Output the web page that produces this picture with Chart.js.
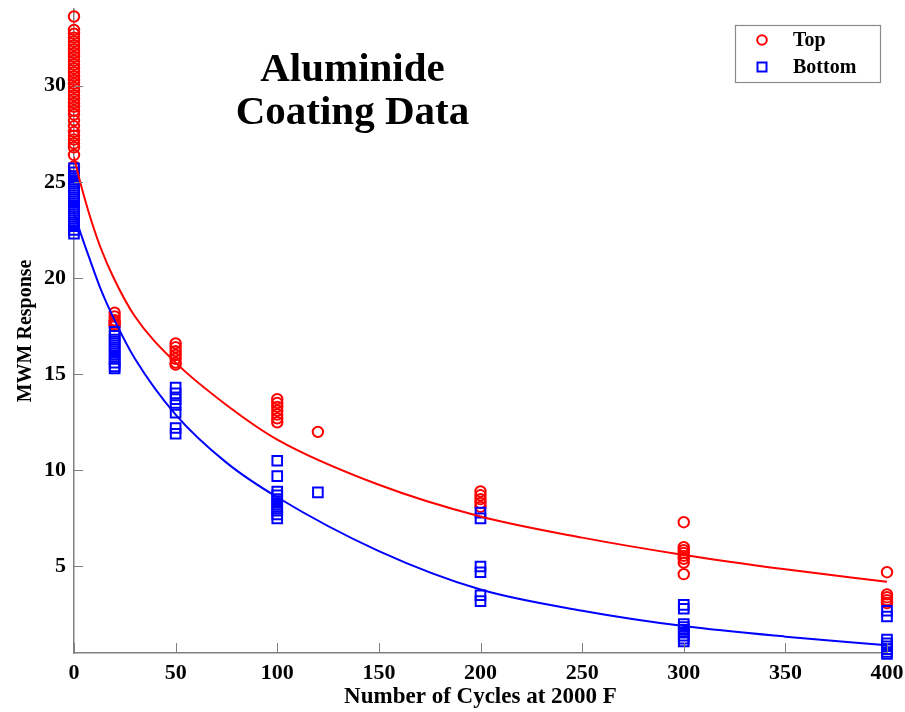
<!DOCTYPE html>
<html><head><meta charset="utf-8">
<script src="https://cdn.jsdelivr.net/npm/chart.js@4/dist/chart.umd.min.js"></script>
<style>html,body{margin:0;padding:0;background:#fff}#wrap{width:905px;height:712px}</style>
</head><body><div id="wrap"><canvas id="c" width="905" height="712"></canvas></div>
<script>
// ---- data ----
const cycles = [0, 20, 50, 100, 120, 200, 300, 400];
const topValues = [
  [33.6, 32.9, 32.7, 32.5, 32.3, 32.1, 31.9, 31.7, 31.5, 31.3, 31.1, 30.9, 30.7, 30.5, 30.3, 30.1, 29.9, 29.7, 29.5, 29.3, 29.1, 28.9, 28.7, 28.5, 28.2, 27.9, 27.6, 27.4, 27.2, 27.0, 26.8, 26.4, 25.8],
  [18.2, 18.0, 17.8, 17.7, 17.6, 17.5],
  [16.6, 16.4, 16.2, 16.0, 15.8, 15.6, 15.5],
  [13.7, 13.5, 13.3, 13.1, 12.9, 12.7, 12.5],
  [12.0],
  [8.9, 8.7, 8.5, 8.3, 8.1],
  [7.3, 6.0, 5.85, 5.7, 5.55, 5.4, 5.2, 4.6],
  [4.7, 3.55, 3.4, 3.25, 3.1]
];
const bottomValues = [
  [25.7, 25.5, 25.3, 25.1, 24.9, 24.7, 24.5, 24.3, 24.1, 23.9, 23.7, 23.5, 23.3, 23.1, 22.9, 22.7, 22.5, 22.3],
  [17.2, 17.0, 16.8, 16.6, 16.4, 16.2, 16.0, 15.8, 15.6, 15.4, 15.3],
  [14.3, 14.0, 13.7, 13.4, 13.0, 12.2, 11.9],
  [10.5, 9.7, 8.9, 8.7, 8.5, 8.3, 8.1, 7.9, 7.7, 7.5],
  [8.85],
  [7.8, 7.5, 5.0, 4.7, 3.5, 3.2],
  [3.0, 2.8, 2.0, 1.85, 1.7, 1.55, 1.4, 1.25, 1.1],
  [2.7, 2.4, 1.2, 1.0, 0.85, 0.7, 0.55, 0.45]
];
const topFitX = [0, 3, 7, 13, 20, 30, 50, 75, 100, 150, 200, 250, 300, 350, 400];
const topFitY = [26.3, 25.0, 23.5, 21.6, 19.9, 18.0, 15.6, 13.4, 11.6, 9.25, 7.6, 6.5, 5.6, 4.85, 4.2];
const bottomFitX = [0, 4, 7, 13.6, 20, 30, 50, 75, 100, 150, 200, 250, 300, 350, 400];
const bottomFitY = [23.4, 22.1, 21.2, 19.3, 17.8, 15.8, 12.9, 10.4, 8.6, 5.8, 3.8, 2.7, 1.9, 1.35, 0.9];
const xTicks = [0, 50, 100, 150, 200, 250, 300, 350, 400];
const yTicks = [5, 10, 15, 20, 25, 30];
const seriesNames = ['Top', 'Bottom'];
const titleLines = ['Aluminide', 'Coating Data'];
const xTitle = 'Number of Cycles at 2000 F';
const yTitle = 'MWM Response';

const RED = '#ff0000', BLUE = '#0000ff';
const FONT = '"Liberation Serif", "Times New Roman", serif';

function toPoints(xs, groups) {
  const pts = [];
  xs.forEach((x, i) => groups[i].forEach(v => pts.push({x: x, y: v})));
  return pts;
}
function zip(xs, ys) { return xs.map((x, i) => ({x: x, y: ys[i]})); }

const innerTicks = {
  id: 'innerTicks',
  afterDraw(chart) {
    const c = chart.ctx, xs = chart.scales.x, ys = chart.scales.y, a = chart.chartArea;
    c.save();
    c.strokeStyle = '#808080';
    c.lineWidth = 1;
    c.beginPath();
    xTicks.forEach(v => { const p = Math.round(xs.getPixelForValue(v)) + 0.5; c.moveTo(p, a.bottom); c.lineTo(p, a.bottom - 10); });
    yTicks.forEach(v => { const p = Math.round(ys.getPixelForValue(v)) + 0.5; c.moveTo(a.left, p); c.lineTo(a.left + 9, p); });
    c.stroke();
    c.restore();
  }
};

const titleAndLegend = {
  id: 'titleAndLegend',
  afterDraw(chart) {
    const c = chart.ctx, xs = chart.scales.x;
    c.save();
    c.fillStyle = '#000';
    c.font = 'bold 41px ' + FONT;
    c.textAlign = 'center';
    c.textBaseline = 'alphabetic';
    const cx = xs.getPixelForValue(137);
    c.fillText(titleLines[0], cx, 81);
    c.fillText(titleLines[1], cx, 124);
    // legend box
    c.fillStyle = '#fff';
    c.fillRect(735, 25, 145, 57);
    c.strokeStyle = '#8a8a8a';
    c.lineWidth = 1.2;
    c.strokeRect(735.5, 25.5, 145, 57);
    c.lineWidth = 2;
    c.strokeStyle = RED;
    c.beginPath(); c.arc(762, 40, 4.8, 0, Math.PI * 2); c.stroke();
    c.strokeStyle = BLUE;
    c.strokeRect(757.5, 62.5, 9, 9);
    c.fillStyle = '#000';
    c.font = 'bold 20px ' + FONT;
    c.textAlign = 'left';
    c.textBaseline = 'middle';
    c.fillText(seriesNames[0], 793, 41);
    c.fillText(seriesNames[1], 793, 68);
    c.restore();
  }
};

new Chart(document.getElementById('c'), {
  type: 'scatter',
  data: {
    datasets: [
      { label: 'Top fit', type: 'line', data: zip(topFitX, topFitY), borderColor: RED, borderWidth: 2,
        pointRadius: 0, fill: false, cubicInterpolationMode: 'monotone', order: 0 },
      { label: 'Bottom fit', type: 'line', data: zip(bottomFitX, bottomFitY), borderColor: BLUE, borderWidth: 2,
        pointRadius: 0, fill: false, cubicInterpolationMode: 'monotone', order: 0 },
      { label: seriesNames[1], data: toPoints(cycles, bottomValues), pointStyle: 'rect', pointRadius: 6.8,
        borderColor: BLUE, backgroundColor: 'rgba(0,0,0,0)', borderWidth: 2, clip: false, order: 1 },
      { label: seriesNames[0], data: toPoints(cycles, topValues), pointStyle: 'circle', pointRadius: 5.2,
        borderColor: RED, backgroundColor: 'rgba(0,0,0,0)', borderWidth: 2, clip: false, order: 2 }
    ]
  },
  options: {
    responsive: false,
    animation: false,
    layout: { padding: { left: 0, top: 7, right: 18, bottom: 0 } },
    plugins: { legend: { display: false }, tooltip: { enabled: false }, title: { display: false } },
    scales: {
      x: {
        type: 'linear', min: 0, max: 400,
        afterBuildTicks: s => { s.ticks = xTicks.map(v => ({value: v})); },
        afterFit: s => { s.height = 59; s.paddingLeft = 0; s.paddingRight = 0; },
        ticks: { color: '#000', font: { family: FONT, size: 22, weight: 'bold' }, padding: 7, maxRotation: 0 },
        grid: { drawOnChartArea: false, drawTicks: false },
        border: { display: true, color: '#808080', width: 1.5 },
        title: { display: true, text: xTitle, color: '#000', font: { family: FONT, size: 23, weight: 'bold' }, padding: { top: 0, bottom: 1 } }
      },
      y: {
        type: 'linear', min: 0.5, max: 34,
        afterBuildTicks: s => { s.ticks = yTicks.map(v => ({value: v})); },
        afterFit: s => { s.width = 74; s.paddingTop = 0; s.paddingBottom = 0; },
        ticks: { color: '#000', font: { family: FONT, size: 22, weight: 'bold' }, padding: 8 },
        grid: { drawOnChartArea: false, drawTicks: false },
        border: { display: true, color: '#808080', width: 1.5 },
        title: { display: true, text: yTitle, color: '#000', font: { family: FONT, size: 20, weight: 'bold' }, padding: { top: 14, bottom: 0 } }
      }
    }
  },
  plugins: [innerTicks, titleAndLegend]
});
</script>
</body></html>
